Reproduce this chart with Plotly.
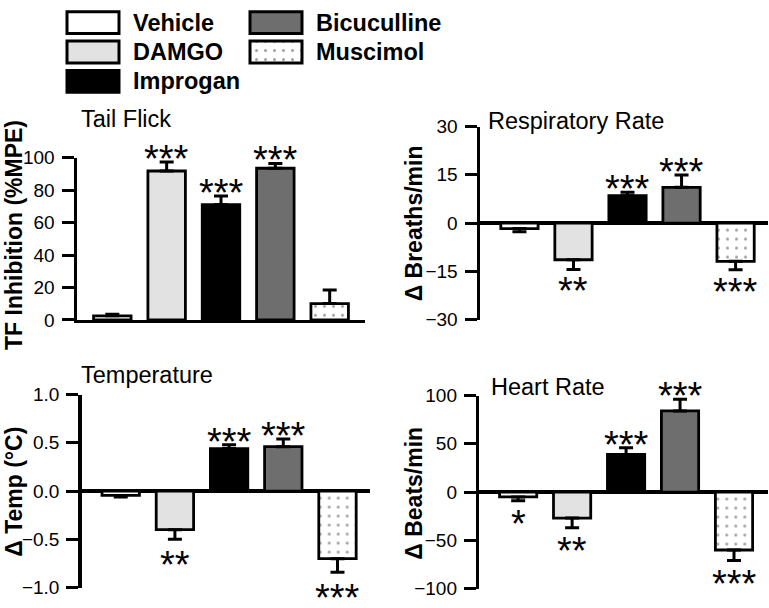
import plotly.graph_objects as go

# ---------------- data ----------------
groups = ["Vehicle", "DAMGO", "Improgan", "Bicuculline", "Muscimol"]

tf_mean = [2.5, 91.8, 71.0, 93.5, 10.1]
tf_sem = [1.0, 5.6, 5.4, 3.0, 8.4]
tf_sig = ["", "***", "***", "***", ""]

resp_mean = [-1.7, -11.4, 8.5, 11.1, -11.9]
resp_sem = [1.0, 3.0, 1.1, 3.8, 2.6]
resp_sig = ["", "**", "***", "***", "***"]

temp_mean = [-0.045, -0.40, 0.44, 0.46, -0.70]
temp_sem = [0.015, 0.10, 0.04, 0.08, 0.14]
temp_sig = ["", "**", "***", "***", "***"]

hr_mean = [-5, -27, 39, 84, -60]
hr_sem = [4, 10, 7, 12, 11]
hr_sig = ["*", "**", "***", "***", "***"]

tf_ticks = [0, 20, 40, 60, 80, 100]
resp_ticks = [-30, -15, 0, 15, 30]
temp_ticks = [-1.0, -0.5, 0.0, 0.5, 1.0]
hr_ticks = [-100, -50, 0, 50, 100]

# ---------------- styles ----------------
W, H = 769, 608
FONT = "Liberation Sans, Arial, sans-serif"
bar_colors = ["#ffffff", "#e2e2e2", "#000000", "#6e6e6e", "#ffffff"]
bar_patterns = ["", "", "", "", "."]
pattern = dict(shape=bar_patterns, fgcolor="black", bgcolor="white", size=9, solidity=0.09)


def xd(a, b):
    return [a / W, min(1, b / W)]


def yd(top, bottom):
    return [max(0, 1 - bottom / H), min(1, 1 - top / H)]


panels = [
    dict(mean=tf_mean, sem=tf_sem, sig=tf_sig, ticks=tf_ticks, rng=[0, 100],
         xdom=xd(77, 365), ydom=yd(153, 321), xr=[-0.65, 4.65],
         title="Tail Flick", tpos=(80, 113), ytitle="TF Inhibition (%MPE)", ytpos=(14, 233),
         fmt="d", bottom_axis=True, neg_gap=14),
    dict(mean=resp_mean, sem=resp_sem, sig=resp_sig, ticks=resp_ticks, rng=[-30, 30],
         xdom=xd(480, 768), ydom=yd(120.7, 320.7), xr=[-0.73, 4.6],
         title="Respiratory Rate", tpos=(487, 114.5), ytitle="Δ Breaths/min", ytpos=(414, 221),
         fmt="d", bottom_axis=False, neg_gap=13.5),
    dict(mean=temp_mean, sem=temp_sem, sig=temp_sig, ticks=temp_ticks, rng=[-1, 1],
         xdom=xd(81.7, 370), ydom=yd(398.3, 598.3), xr=[-0.72, 4.6],
         title="Temperature", tpos=(80, 378), ytitle="Δ Temp (°C)", ytpos=(14, 499),
         fmt=".1f", bottom_axis=False, neg_gap=17),
    dict(mean=hr_mean, sem=hr_sem, sig=hr_sig, ticks=hr_ticks, rng=[-100, 100],
         xdom=xd(479.3, 768), ydom=yd(399.3, 599.3), xr=[-0.72, 4.63],
         title="Heart Rate", tpos=(490, 390.5), ytitle="Δ Beats/min", ytpos=(414, 500),
         fmt="d", bottom_axis=False, neg_gap=15),
]

STAR_SIZE = 38
STAR_CENTER = 0.225 * STAR_SIZE   # glyph centre above text-box centre

fig = go.Figure()
annotations = []
layout = {}

for i, p in enumerate(panels, start=1):
    xa = "x" if i == 1 else f"x{i}"
    ya = "y" if i == 1 else f"y{i}"
    up = [s if m >= 0 else 0 for m, s in zip(p["mean"], p["sem"])]
    down = [s if m < 0 else 0 for m, s in zip(p["mean"], p["sem"])]
    fig.add_trace(go.Bar(
        x=groups, y=p["mean"], xaxis=xa, yaxis=ya, width=0.69,
        marker=dict(color=bar_colors, line=dict(color="black", width=2.8), pattern=pattern),
        error_y=dict(type="data", symmetric=False, array=up, arrayminus=down,
                     color="black", thickness=3, width=7),
        showlegend=False, hoverinfo="skip",
    ))
    xkey = "xaxis" if i == 1 else f"xaxis{i}"
    ykey = "yaxis" if i == 1 else f"yaxis{i}"
    layout[xkey] = dict(domain=p["xdom"], anchor=ya, type="category", range=p["xr"],
                        showgrid=False, zeroline=False, showticklabels=False, ticks="",
                        showline=p["bottom_axis"], linecolor="black", linewidth=3.5,
                        fixedrange=True)
    layout[ykey] = dict(domain=p["ydom"], anchor=xa, range=p["rng"], tickvals=p["ticks"],
                        tickformat=p["fmt"], showgrid=False,
                        zeroline=not p["bottom_axis"], zerolinecolor="black", zerolinewidth=3.5,
                        showline=True, linecolor="black", linewidth=3.5,
                        ticks="outside", ticklen=12, tickwidth=3, tickcolor="black",
                        ticklabelstandoff=3,
                        tickfont=dict(family=FONT, size=19, color="black"),
                        fixedrange=True)
    # panel title
    annotations.append(dict(text=p["title"], xref="paper", yref="paper",
                            x=(p["tpos"][0] - 1) / W, y=1 - p["tpos"][1] / H,
                            xanchor="left", yanchor="middle", showarrow=False,
                            font=dict(family=FONT, size=23.5, color="black")))
    # y axis title
    annotations.append(dict(text=f"<b>{p['ytitle']}</b>", xref="paper", yref="paper",
                            x=p["ytpos"][0] / W, y=1 - p["ytpos"][1] / H, textangle=-90,
                            xanchor="center", yanchor="middle", showarrow=False,
                            font=dict(family=FONT, size=23, color="black")))
    # significance stars
    for g, m, s, sig in zip(groups, p["mean"], p["sem"], p["sig"]):
        if not sig:
            continue
        pos = m >= 0
        annotations.append(dict(text=sig, xref=xa, yref=ya, x=g,
                                y=(m + s) if pos else (m - s),
                                xanchor="center", yanchor="middle", showarrow=False,
                                yshift=(11.5 - STAR_CENTER) if pos else -(p["neg_gap"] + STAR_CENTER),
                                font=dict(family=FONT, size=STAR_SIZE, color="black")))

# ---------------- legend (custom) ----------------
leg_col = [0, 0, 0, 1, 1]
leg_row = [0, 1, 2, 0, 1]
col_box_x = [67, 250]
col_text_x = [131, 314]
box_w = 52
fig.add_trace(go.Bar(
    y=leg_row, x=[box_w] * 5, base=[col_box_x[c] for c in leg_col], orientation="h",
    xaxis="x5", yaxis="y5", width=0.74,
    marker=dict(color=bar_colors, line=dict(color="black", width=3), pattern=pattern),
    showlegend=False, hoverinfo="skip",
))
layout["xaxis5"] = dict(domain=[0, 1], anchor="y5", range=[0, W], visible=False, fixedrange=True)
layout["yaxis5"] = dict(domain=[1 - 92 / H, 1], anchor="x5", range=[2.59, -0.426],
                        visible=False, fixedrange=True)
for g, c, r in zip(groups, leg_col, leg_row):
    annotations.append(dict(text=f"<b>{g}</b>", xref="paper", yref="y5",
                            x=col_text_x[c] / W, y=r, xanchor="left", yanchor="middle",
                            showarrow=False, font=dict(family=FONT, size=23.5, color="black")))

fig.update_layout(
    width=W, height=H, margin=dict(l=0, r=0, t=0, b=0),
    paper_bgcolor="white", plot_bgcolor="white",
    font=dict(family=FONT, color="black"),
    annotations=annotations, bargap=0.3, **layout,
)

# remove the default 8px page margin so the figure sits at the window's corner
fig.write_html("out.html",
               config={"displayModeBar": False, "staticPlot": True},
               post_script="document.body.style.margin='0';document.body.style.overflow='hidden';")
